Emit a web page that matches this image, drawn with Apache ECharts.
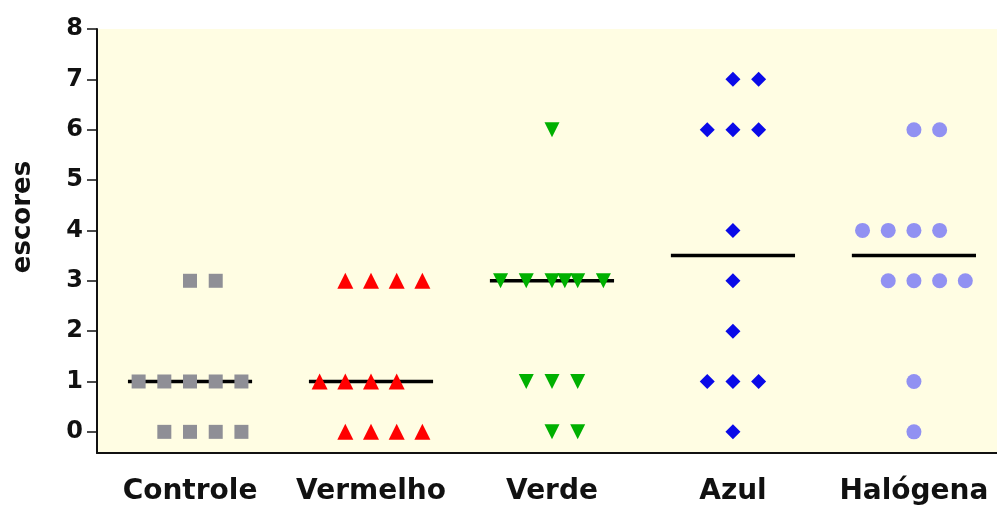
<!DOCTYPE html>
<html>
<head>
<meta charset="utf-8">
<script src="https://cdn.jsdelivr.net/npm/echarts@6/dist/echarts.min.js"></script>
<style>
html,body{margin:0;padding:0;background:#fff;}
#chart{width:997px;height:506px;}
</style>
</head>
<body>
<div id="chart"></div>
<script>
// ---- data ----
const categories = ['Controle', 'Vermelho', 'Verde', 'Azul', 'Halógena'];
const yTicks = [0, 1, 2, 3, 4, 5, 6, 7, 8];

const controleY      = [3, 3, 1, 1, 1, 1, 1, 0, 0, 0, 0];
const controleJitter = [0, 1, -2, -1, 0, 1, 2, -1, 0, 1, 2];

const vermelhoY      = [3, 3, 3, 3, 1, 1, 1, 1, 0, 0, 0, 0];
const vermelhoJitter = [-1, 0, 1, 2, -2, -1, 0, 1, -1, 0, 1, 2];

const verdeY         = [6, 3, 3, 3, 3, 3, 3, 1, 1, 1, 0, 0];
const verdeJitter    = [0, -2, -1, 0, 0.5, 1, 2, -1, 0, 1, 0, 1];

const azulY          = [7, 7, 6, 6, 6, 4, 3, 2, 1, 1, 1, 0];
const azulJitter     = [0, 1, -1, 0, 1, 0, 0, 0, -1, 0, 1, 0];

const halogenaY      = [6, 6, 4, 4, 4, 4, 3, 3, 3, 3, 1, 0];
const halogenaJitter = [0, 1, -2, -1, 0, 1, -1, 0, 1, 2, 0, 0];

const medians = [1, 1, 3, 3.5, 3.5];

// ---- styling / layout ----
const DOT = 0.142;       // jitter step in category units
const HALF = 0.343;      // half-length of median bar in category units
const FONT = 'DejaVu Sans';

const groups = [
  { y: controleY, j: controleJitter, symbol: 'rect', size: 14, rotate: 0, color: '#8f8f96' },
  { y: vermelhoY, j: vermelhoJitter, symbol: 'triangle', size: 16, rotate: 0, color: '#ff0000' },
  { y: verdeY, j: verdeJitter, symbol: 'triangle', size: 15, rotate: 180, color: '#00b000' },
  { y: azulY, j: azulJitter, symbol: 'diamond', size: 15, rotate: 0, color: '#0a0ae8' },
  { y: halogenaY, j: halogenaJitter, symbol: 'circle', size: 15, rotate: 0, color: '#9191f2' }
];

const series = [];
groups.forEach((g, i) => {
  series.push({
    type: 'line',
    name: categories[i] + ' mediana',
    data: [[i - HALF, medians[i]], [i + HALF, medians[i]]],
    symbol: 'none',
    lineStyle: { color: '#000', width: 3.5 },
    z: 2,
    silent: true,
    animation: false
  });
  series.push({
    type: 'scatter',
    name: categories[i],
    data: g.y.map((v, k) => [i + g.j[k] * DOT, v]),
    symbol: g.symbol,
    symbolSize: g.size,
    symbolRotate: g.rotate,
    itemStyle: { color: g.color, opacity: 1 },
    z: 3,
    animation: false
  });
});

const chart = echarts.init(document.getElementById('chart'));
chart.setOption({
  animation: false,
  backgroundColor: '#ffffff',
  grid: {
    left: 97, top: 29, right: 0, bottom: 53,
    show: true, backgroundColor: '#fffde3', borderWidth: 0
  },
  xAxis: {
    type: 'value',
    min: -0.514,
    max: 4.459,
    splitLine: { show: false },
    axisTick: { show: false },
    axisLine: { show: true, onZero: false, lineStyle: { color: '#111', width: 2 } },
    axisLabel: {
      customValues: [0, 1, 2, 3, 4],
      formatter: v => categories[Math.round(v)],
      fontFamily: FONT, fontWeight: 'bold', fontSize: 28, color: '#111',
      margin: 25
    }
  },
  yAxis: {
    type: 'value',
    min: -0.42,
    max: 8,
    splitLine: { show: false },
    axisLine: { show: true, onZero: false, lineStyle: { color: '#111', width: 2 } },
    axisTick: { show: true, customValues: yTicks, length: 10, lineStyle: { color: '#111', width: 1.5 } },
    axisLabel: {
      customValues: yTicks,
      fontFamily: FONT, fontWeight: 'bold', fontSize: 24, color: '#111',
      margin: 14
    }
  },
  graphic: [{
    type: 'text',
    x: 23, y: 217,
    rotation: Math.PI / 2,
    style: {
      text: 'escores',
      font: 'bold 26px "DejaVu Sans"',
      fill: '#111',
      align: 'center',
      verticalAlign: 'middle'
    }
  }],
  series: series
});
</script>
</body>
</html>
